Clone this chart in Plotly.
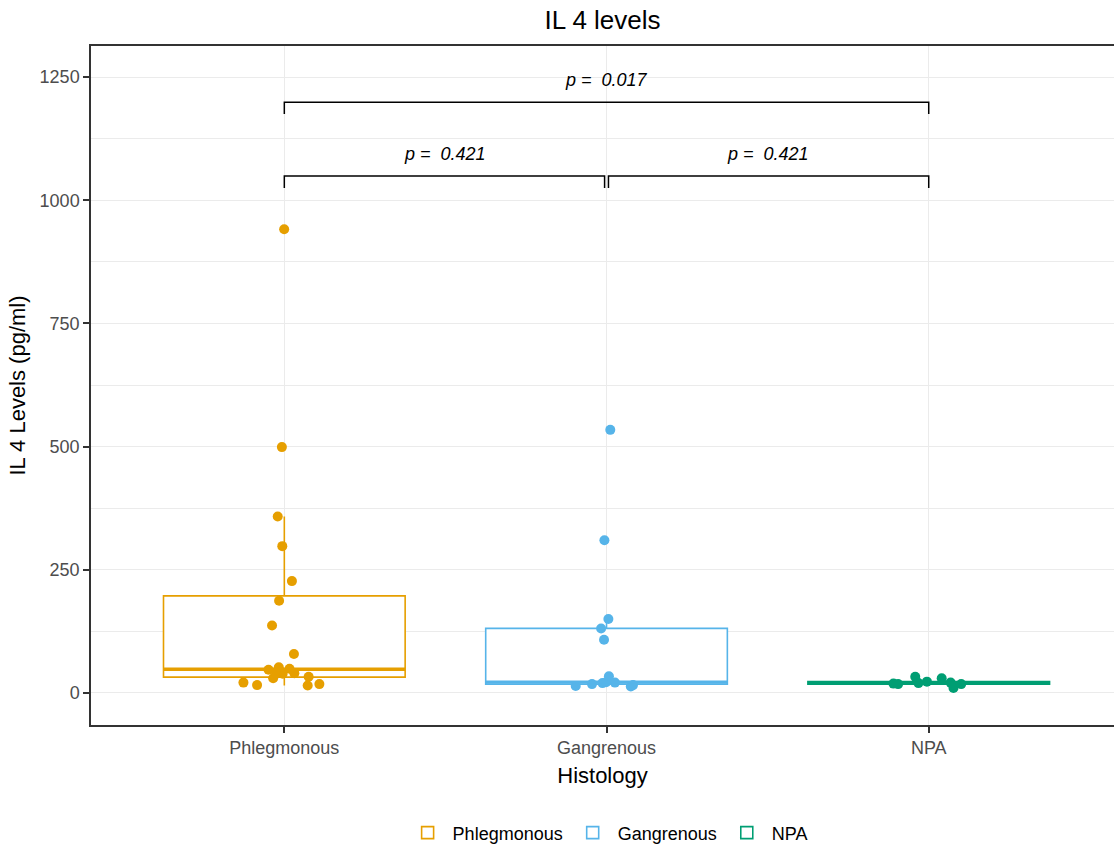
import numpy as np
import plotly.graph_objects as go

# ---- data ----
categories = ["Phlegmonous", "Gangrenous", "NPA"]
phlegmonous = [941, 499, 358, 298, 227, 187, 137, 79, 52, 49, 47, 40, 40, 39, 33, 30, 21, 18, 16, 15]
gangrenous = [534, 310, 150, 131, 108, 34, 22, 21, 20, 18, 16, 14, 13]
npa = [33, 30, 23, 21, 20, 19, 18, 18, 10]
colors = ["#E69F00", "#56B4E9", "#009E73"]

y_ticks = [0, 250, 500, 750, 1000, 1250]

# comparisons: (group a, group b, bracket height, label)
comp_a = [1, 1, 2]
comp_b = [3, 2, 3]
comp_y = [1199, 1049, 1049]
comp_label = ["p =  0.017", "p =  0.421", "p =  0.421"]
tip = 24

FONT = "Liberation Sans, Arial, sans-serif"
series = [phlegmonous, gangrenous, npa]

fig = go.Figure()

# boxes (ggplot-style stats, outliers hidden)
for i, (name, vals, col) in enumerate(zip(categories, series, colors)):
    v = np.array(vals, dtype=float)
    pos = i + 1
    q1, med, q3 = np.percentile(v, [25, 50, 75])
    iqr = q3 - q1
    hi = v[v <= q3 + 1.5 * iqr].max()
    lo = v[v >= q1 - 1.5 * iqr].min()
    fig.add_trace(go.Box(
        x=[pos], q1=[q1], median=[med], q3=[q3], lowerfence=[lo], upperfence=[hi],
        width=0.75, whiskerwidth=0, boxpoints=False,
        line=dict(color=col, width=1.6), fillcolor="white",
        name=name, legendgroup=name, showlegend=True, hoverinfo="skip",
    ))
    fig.add_trace(go.Scatter(
        x=[pos - 0.375, pos + 0.375], y=[med, med], mode="lines",
        line=dict(color=col, width=3.4), showlegend=False, legendgroup=name,
        hoverinfo="skip",
    ))

# jittered points
for i, (name, vals, col) in enumerate(zip(categories, series, colors)):
    pos = i + 1
    fig.add_trace(go.Box(
        x=[pos] * len(vals), y=vals, width=0.75,
        boxpoints="all", jitter=0.4, pointpos=0,
        line=dict(color="rgba(0,0,0,0)", width=0), fillcolor="rgba(0,0,0,0)",
        marker=dict(color=col, size=10, line=dict(width=0)),
        showlegend=False, legendgroup=name, name=name,
    ))

# significance brackets
for a, b, yb, lab in zip(comp_a, comp_b, comp_y, comp_label):
    xa = a + (0.006 if a == 2 else 0)
    xb = b - (0.006 if (b == 2) else 0)
    fig.add_trace(go.Scatter(
        x=[xa, xa, xb, xb], y=[yb - tip, yb, yb, yb - tip], mode="lines",
        line=dict(color="black", width=1.5), showlegend=False, hoverinfo="skip",
    ))
    fig.add_annotation(
        x=(a + b) / 2, y=yb, xref="x", yref="y", text=lab, showarrow=False,
        yanchor="bottom", yshift=10,
        font=dict(family=FONT, size=18, color="black", style="italic"),
    )

fig.update_layout(
    width=1114, height=853,
    margin=dict(l=91, r=0, t=46, b=128),
    paper_bgcolor="white", plot_bgcolor="white",
    boxmode="overlay",
    title=dict(text="IL 4 levels", xref="paper", x=0.5, xanchor="center",
               yref="container", y=1 - 20 / 853, yanchor="middle",
               font=dict(family=FONT, size=26, color="black")),
    font=dict(family=FONT, color="black"),
    legend=dict(orientation="h", x=0.505, xanchor="center", y=-0.159, yanchor="middle",
                font=dict(family=FONT, size=18, color="black"),
                itemwidth=40, bgcolor="rgba(0,0,0,0)"),
    showlegend=True,
)

fig.update_xaxes(
    range=[0.4, 3.575], tickmode="array", tickvals=[1, 2, 3], ticktext=categories,
    showgrid=True, gridcolor="#EBEBEB", gridwidth=1.3, zeroline=False,
    showline=True, mirror=True, linecolor="#333333", linewidth=1.5,
    ticks="outside", ticklen=6, tickcolor="#333333", tickwidth=1.5,
    tickfont=dict(family=FONT, size=18, color="#4D4D4D"),
    title=dict(text="Histology", font=dict(family=FONT, size=22, color="black"), standoff=10),
)
fig.update_yaxes(
    range=[-65, 1313], tickmode="array", tickvals=y_ticks,
    showgrid=True, gridcolor="#EBEBEB", gridwidth=1.3, zeroline=False,
    minor=dict(dtick=125, tick0=0, showgrid=True, gridcolor="#EBEBEB", gridwidth=0.7, ticks=""),
    showline=True, linecolor="#333333", linewidth=1.5,
    ticks="outside", ticklen=6, tickcolor="#333333", tickwidth=1.5,
    tickfont=dict(family=FONT, size=18, color="#4D4D4D"),
    title=dict(text="IL 4 Levels (pg/ml)", font=dict(family=FONT, size=22, color="black"), standoff=8),
)

fig.write_html("out.html", config={"displayModeBar": False},
               post_script="document.body.style.margin='0';")
